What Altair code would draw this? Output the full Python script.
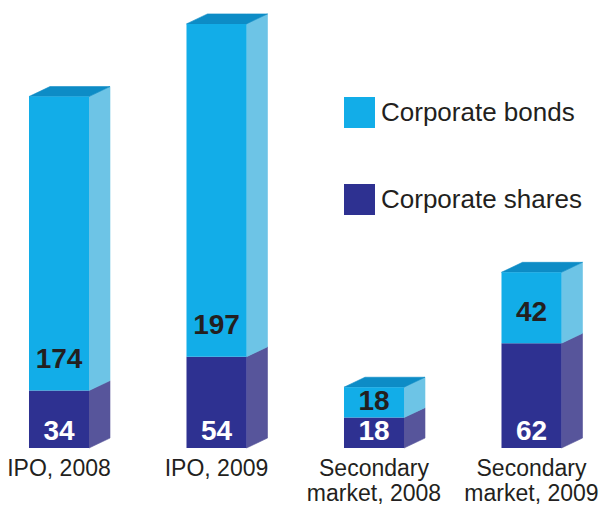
import altair as alt
import pandas as pd

# ---- data ----
categories = ["IPO, 2008", "IPO, 2009", "Secondary\nmarket, 2008", "Secondary\nmarket, 2009"]
shares = [34, 54, 18, 62]
bonds = [174, 197, 18, 42]
series = ["Corporate bonds", "Corporate shares"]

# ---- styling ----
FRONT = {"Corporate bonds": "#12ADE8", "Corporate shares": "#2E3191"}
SIDE = {"Corporate bonds": "#6DC4E6", "Corporate shares": "#57559B"}
TOP = "#0D8CC6"
FONT = "Liberation Sans"
INK = "#231F20"

HALF = 0.1905  # half width of the front face (category units)
DX = 0.1333    # depth offset in x (category units)
DY = 5.9       # depth offset in y (value units)

front_rows, side_rows, top_rows, val_rows, cat_rows = [], [], [], [], []
for i, cat in enumerate(categories):
    segs = [("Corporate shares", 0, shares[i]),
            ("Corporate bonds", shares[i], shares[i] + bonds[i])]
    for s, y0, y1 in segs:
        front_rows.append(dict(series=s, x0=i - HALF, x1=i + HALF, y0=y0, y1=y1))
        pid = f"{i}-{s}"
        side_rows.append(dict(pid=pid, x=i + HALF, lo=y0, hi=y1, col=SIDE[s]))
        side_rows.append(dict(pid=pid, x=i + HALF + DX, lo=y0 + DY, hi=y1 + DY, col=SIDE[s]))
    t = shares[i] + bonds[i]
    for x, lo, hi in [(i - HALF, t, t), (i - HALF + DX, t, t + DY),
                      (i + HALF, t, t + DY), (i + HALF + DX, t + DY, t + DY)]:
        top_rows.append(dict(pid=f"t{i}", x=x, lo=lo, hi=hi, col=TOP))
    val_rows.append(dict(x=i, y=shares[i] + min(bonds[i] / 2, 18), label=str(bonds[i]), kind="bond"))
    val_rows.append(dict(x=i, y=0, label=str(shares[i]), kind="share"))
    cat_rows.append(dict(x=i, y=0, label=cat))

front = pd.DataFrame(front_rows)
side = pd.DataFrame(side_rows)
top = pd.DataFrame(top_rows)
vals = pd.DataFrame(val_rows)
cats = pd.DataFrame(cat_rows)

xs = alt.Scale(domain=[-0.3238, 3.4286], nice=False, zero=False)
ys = alt.Scale(domain=[-34.9, 260.4], nice=False, zero=False)

X = lambda f: alt.X(f, scale=xs, axis=None)
Y = lambda f: alt.Y(f, scale=ys, axis=None, stack=None)

side_layer = alt.Chart(side).mark_area(strokeWidth=0.6).encode(
    x=X("x:Q"), y=Y("lo:Q"), y2="hi:Q", detail="pid:N",
    color=alt.Color("col:N", scale=None),
    stroke=alt.Stroke("col:N", scale=None),
)

top_layer = alt.Chart(top).mark_area(strokeWidth=0.6).encode(
    x=X("x:Q"), y=Y("lo:Q"), y2="hi:Q", detail="pid:N",
    color=alt.Color("col:N", scale=None),
    stroke=alt.Stroke("col:N", scale=None),
)

front_layer = alt.Chart(front).mark_rect().encode(
    x=X("x0:Q"), x2="x1:Q", y=Y("y0:Q"), y2="y1:Q",
    color=alt.Color(
        "series:N",
        scale=alt.Scale(domain=series, range=[FRONT[s] for s in series]),
        legend=alt.Legend(
            orient="none", legendX=336, legendY=89, title=None,
            symbolType="square", symbolSize=961, symbolStrokeWidth=0,
            symbolOpacity=1, labelFontSize=26, labelFont=FONT,
            labelColor=INK, rowPadding=56, labelOffset=6, padding=0,
            labelLimit=400,
        ),
    ),
)

share_text = alt.Chart(vals[vals["kind"] == "share"]).mark_text(
    font=FONT, fontSize=28, fontWeight="bold", baseline="middle", align="center",
    dy=-16, color="white"
).encode(x=X("x:Q"), y=Y("y:Q"), text="label:N")

bond_text = alt.Chart(vals[vals["kind"] == "bond"]).mark_text(
    font=FONT, fontSize=28, fontWeight="bold", baseline="middle", align="center",
    color=INK
).encode(x=X("x:Q"), y=Y("y:Q"), text="label:N")

cat_text = alt.Chart(cats).mark_text(
    font=FONT, fontSize=23, baseline="alphabetic", align="center",
    dy=28, lineBreak="\n", lineHeight=25, color=INK
).encode(x=X("x:Q"), y=Y("y:Q"), text="label:N")

chart = alt.layer(
    side_layer, top_layer, front_layer, bond_text, share_text, cat_text
).properties(
    width=591, height=499,
    autosize=alt.AutoSizeParams(type="none"),
    padding=0,
    background="white",
).configure_view(stroke=None)

chart.save("out.html", embed_options={"renderer": "svg", "actions": False})
